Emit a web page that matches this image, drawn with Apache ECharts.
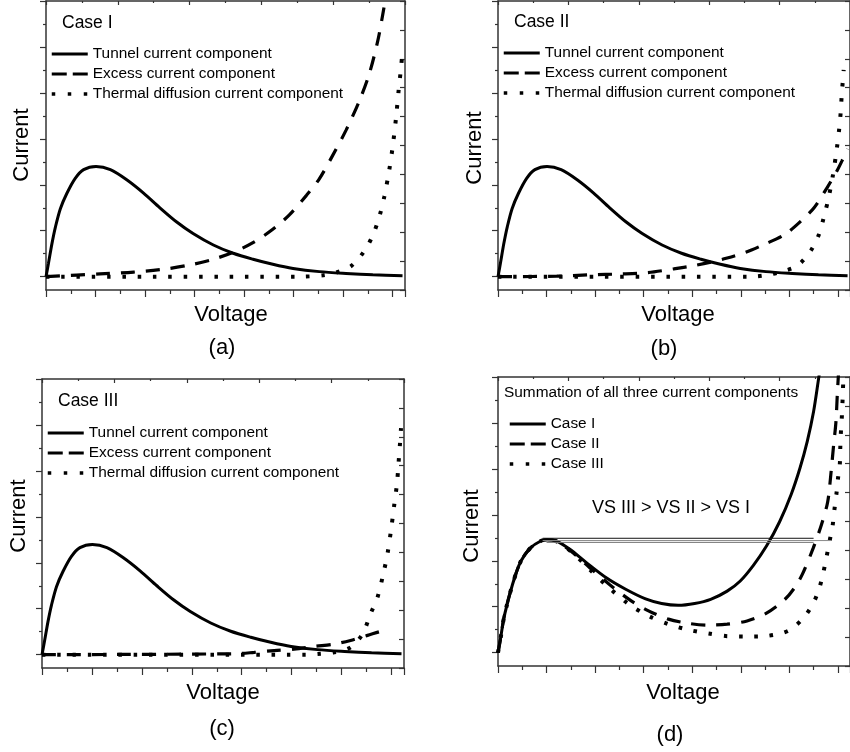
<!DOCTYPE html>
<html>
<head>
<meta charset="utf-8">
<title>Current components</title>
<script src="https://cdn.jsdelivr.net/npm/echarts@6/dist/echarts.min.js"></script>
<style>
html, body { margin: 0; padding: 0; background: #fff; }
#chart { width: 850px; height: 752px; }
</style>
</head>
<body>
<div id="chart"></div>
<script>
// tunnel component is the same in case I, II and III
const tunnel = [[0,0],[0.05,0.29],[0.12,0.72],[0.19,1.08],[0.29,1.48],[0.42,1.81],[0.59,2.14],[0.76,2.33],[1.01,2.40],[1.30,2.33],[1.63,2.11],[1.97,1.82],[2.30,1.50],[2.64,1.19],[2.97,0.94],[3.38,0.69],[3.78,0.51],[4.18,0.38],[4.58,0.27],[4.99,0.18],[5.52,0.11],[6.06,0.07],[6.60,0.04],[7.20,0.02]];

const excess1 = [[0,0],[1.09,0.06],[1.77,0.10],[2.44,0.17],[2.97,0.27],[3.38,0.38],[3.78,0.53],[4.18,0.74],[4.58,1.03],[4.92,1.35],[5.26,1.77],[5.52,2.13],[5.79,2.64],[6.06,3.19],[6.33,3.83],[6.53,4.42],[6.70,5.13],[6.80,5.70],[6.87,6.14]];
const thermal1 = [[0,0],[5.12,0],[5.59,0.03],[5.86,0.09],[6.16,0.23],[6.43,0.56],[6.60,0.90],[6.73,1.30],[6.83,1.73],[6.93,2.31],[7.00,2.82],[7.07,3.47],[7.12,4.04],[7.17,4.55],[7.20,4.91]];

const excess2 = [[0,0],[1.21,0.01],[1.88,0.04],[2.55,0.06],[3.09,0.09],[3.62,0.17],[4.03,0.24],[4.36,0.31],[4.70,0.40],[5.10,0.53],[5.50,0.71],[5.91,0.92],[6.24,1.21],[6.51,1.50],[6.78,1.94],[6.98,2.30],[7.08,2.51],[7.20,2.78]];
const thermal2 = [[0,0],[5.20,0],[5.57,0.04],[5.91,0.13],[6.17,0.24],[6.44,0.56],[6.61,0.92],[6.71,1.29],[6.81,1.72],[6.90,2.22],[6.98,2.80],[7.03,3.24],[7.06,3.60],[7.08,3.96],[7.12,4.50]];

const excess3 = [[0,0],[3.84,0.02],[4.25,0.05],[4.65,0.09],[5.05,0.12],[5.45,0.18],[5.85,0.23],[6.18,0.31],[6.52,0.42],[6.79,0.51],[6.95,0.55]];
const thermal3 = [[0,0],[5.30,0],[5.58,0.02],[5.85,0.05],[6.18,0.16],[6.42,0.45],[6.58,0.89],[6.72,1.25],[6.85,1.83],[6.92,2.20],[6.99,2.71],[7.05,3.22],[7.11,3.73],[7.14,4.16],[7.17,4.60],[7.19,4.93]];

// summation of the three components
const sum1 = [[0,0],[0.05,0.29],[0.13,0.80],[0.30,1.49],[0.47,1.99],[0.67,2.28],[0.88,2.43],[1.01,2.46],[1.21,2.43],[1.48,2.25],[1.82,1.96],[2.23,1.63],[2.63,1.38],[3.04,1.17],[3.37,1.07],[3.71,1.03],[4.05,1.07],[4.38,1.16],[4.72,1.34],[4.99,1.56],[5.26,1.90],[5.53,2.32],[5.80,2.85],[6.04,3.45],[6.22,4.02],[6.37,4.60],[6.50,5.25],[6.61,6.01],[6.64,6.2]];
const sum2 = [[0,0],[0.05,0.29],[0.13,0.80],[0.30,1.49],[0.47,1.99],[0.67,2.28],[0.88,2.43],[1.01,2.46],[1.21,2.42],[1.55,2.17],[1.89,1.85],[2.29,1.49],[2.70,1.16],[3.10,0.91],[3.51,0.73],[3.91,0.64],[4.32,0.60],[4.72,0.62],[5.13,0.69],[5.53,0.86],[5.90,1.15],[6.10,1.40],[6.27,1.71],[6.49,2.27],[6.66,2.78],[6.79,3.28],[6.86,3.93],[6.91,4.49],[6.96,5.02],[6.99,5.65],[7.02,6.2]];
const sum3 = [[0,0],[0.05,0.29],[0.13,0.80],[0.30,1.49],[0.47,1.99],[0.67,2.28],[0.88,2.43],[1.01,2.46],[1.21,2.42],[1.55,2.16],[1.89,1.81],[2.29,1.41],[2.70,1.05],[3.10,0.80],[3.51,0.62],[3.91,0.50],[4.32,0.42],[4.72,0.36],[5.13,0.35],[5.50,0.36],[5.83,0.42],[6.05,0.52],[6.31,0.78],[6.50,1.09],[6.62,1.41],[6.70,1.74],[6.77,2.10],[6.83,2.43],[6.89,2.75],[6.93,3.12],[6.97,3.45],[7.00,3.77],[7.04,4.10],[7.05,4.46],[7.06,4.75],[7.08,5.09],[7.10,5.58],[7.12,6.2]];

// peak-to-valley comparison lines in (d)
const vsLevel = [2.49, 2.44, 2.40];
const vsStart = [0.92, 0.92, 1.0];
const vsEnd = [6.50, 6.85, 6.50];

const majorTicks = [0, 1, 2, 3, 4, 5, 6];
const minorTicks = [0.5, 1.5, 2.5, 3.5, 4.5, 5.5];

const FONT = '"Liberation Sans", Arial, sans-serif';
const AX = { color: '#333', width: 1.5 };
const TK = { color: '#333', width: 1.2 };

const SOLID = { color: '#000', width: 3, type: 'solid' };
const DASH = { color: '#000', width: 3.2, type: [14, 11] };
const DOT = { color: '#000', width: 4, type: [3.5, 11.8] };

const grids = [
  { left: 46, top: 1, width: 359, height: 289 },
  { left: 498, top: 1, width: 359, height: 289 },
  { left: 42, top: 379, width: 362, height: 289 },
  { left: 498, top: 377, width: 359, height: 289 }
];

const xAxis = [], yAxis = [], series = [];
grids.forEach((g, k) => {
  xAxis.push({
    gridIndex: k, type: 'value', min: 0, max: 7.25, interval: 1, position: 'bottom',
    axisLine: { onZero: false, lineStyle: AX },
    axisTick: { inside: false, length: 7, lineStyle: TK },
    minorTick: { show: true, splitNumber: 2, length: 4, lineStyle: TK },
    axisLabel: { show: false }, splitLine: { show: false }, minorSplitLine: { show: false }
  });
  xAxis.push({
    gridIndex: k, type: 'value', min: 0, max: 5, interval: 1, position: 'top',
    axisLine: { onZero: false, lineStyle: AX },
    axisTick: { inside: true, length: 4, lineStyle: TK },
    minorTick: { show: true, splitNumber: 2, length: 2, lineStyle: TK },
    axisLabel: { show: false }, splitLine: { show: false }
  });
  yAxis.push({
    gridIndex: k, type: 'value', min: -0.29, max: 6, position: 'left',
    axisLine: { show: true, onZero: false, lineStyle: AX },
    axisTick: { show: true, inside: false, length: 6, lineStyle: TK, customValues: majorTicks },
    axisLabel: { show: false }, splitLine: { show: false }
  });
  yAxis.push({
    gridIndex: k, type: 'value', min: -0.29, max: 6, position: 'left',
    axisLine: { show: false, onZero: false },
    axisTick: { show: true, inside: false, length: 3, lineStyle: TK, customValues: minorTicks },
    axisLabel: { show: false }, splitLine: { show: false }
  });
  yAxis.push({
    gridIndex: k, type: 'value', min: 0, max: 10, interval: 1, position: 'right',
    axisLine: { show: true, onZero: false, lineStyle: AX },
    axisTick: { show: true, inside: true, length: 5, lineStyle: TK },
    axisLabel: { show: false }, splitLine: { show: false }
  });
});

function line(k, name, data, style) {
  return {
    name: name, type: 'line', xAxisIndex: 2 * k, yAxisIndex: 3 * k,
    data: data, symbol: 'none', smooth: 0.3, lineStyle: style, silent: true,
    itemStyle: { color: '#000' }
  };
}

const comp = ['Tunnel current component', 'Excess current component', 'Thermal diffusion current component'];
const cases = [[excess1, thermal1], [excess2, thermal2], [excess3, thermal3]];
cases.forEach((c, k) => {
  series.push(line(k, comp[0], tunnel, SOLID));
  series.push(line(k, comp[1], c[0], DASH));
  series.push(line(k, comp[2], c[1], DOT));
});
series.push(line(3, 'Case I', sum1, SOLID));
series.push(line(3, 'Case II', sum2, DASH));
series.push(line(3, 'Case III', sum3, DOT));
const vsColor = ['#111', '#888', '#777'];
vsLevel.forEach((v, i) => {
  series.push({
    type: 'line', xAxisIndex: 6, yAxisIndex: 9, symbol: 'none', silent: true,
    data: [[vsStart[i], v], [vsEnd[i], v]],
    lineStyle: { color: vsColor[i], width: 1 }
  });
});

function legend(left, top, names) {
  const types = ['solid', [15, 6], [3.5, 12.5]];
  return {
    left: left, top: top, orient: 'vertical', selectedMode: false,
    itemWidth: 36, itemHeight: 14, itemGap: 5, padding: 0,
    lineStyle: { width: 3 },
    itemStyle: { opacity: 0 },
    textStyle: { color: '#000', fontSize: 15.4, fontFamily: FONT, lineHeight: 15 },
    data: names.map((n, i) => ({
      name: n,
      itemStyle: { opacity: 0 },
      lineStyle: { type: types[i], width: i === 2 ? 3.5 : 3, color: '#000' }
    }))
  };
}

function txt(x, y, s, size, align, rot) {
  return {
    type: 'text', x: x, y: y, rotation: rot || 0, silent: true,
    style: {
      text: s, font: size + 'px ' + FONT, fill: '#000',
      align: align, verticalAlign: 'middle', textAlign: align, textVerticalAlign: 'middle'
    }
  };
}

const graphic = [
  txt(62, 23, 'Case I', 17.5, 'left'),
  txt(514, 22, 'Case II', 17.5, 'left'),
  txt(58, 401, 'Case III', 17.5, 'left'),
  txt(504, 393, 'Summation of all three current components', 15.4, 'left'),
  txt(671, 508, 'VS III > VS II > VS I', 18, 'center'),
  txt(22, 145, 'Current', 22, 'center', Math.PI / 2),
  txt(475, 148, 'Current', 22, 'center', Math.PI / 2),
  txt(19, 516, 'Current', 22, 'center', Math.PI / 2),
  txt(472, 526, 'Current', 22, 'center', Math.PI / 2),
  txt(231, 315, 'Voltage', 22, 'center'),
  txt(678, 315, 'Voltage', 22, 'center'),
  txt(223, 693, 'Voltage', 22, 'center'),
  txt(683, 693, 'Voltage', 22, 'center'),
  txt(222, 348, '(a)', 22, 'center'),
  txt(664, 349, '(b)', 22, 'center'),
  txt(222, 729, '(c)', 22, 'center'),
  txt(670, 735, '(d)', 22, 'center')
];

const option = {
  backgroundColor: '#fff',
  animation: false,
  grid: grids,
  xAxis: xAxis,
  yAxis: yAxis,
  legend: [
    legend(50, 46.5, comp),
    legend(502, 45.5, comp),
    legend(46, 425.5, comp),
    legend(508, 416.5, ['Case I', 'Case II', 'Case III'])
  ],
  graphic: graphic,
  series: series
};

const chart = echarts.init(document.getElementById('chart'));
chart.setOption(option);
</script>
</body>
</html>
